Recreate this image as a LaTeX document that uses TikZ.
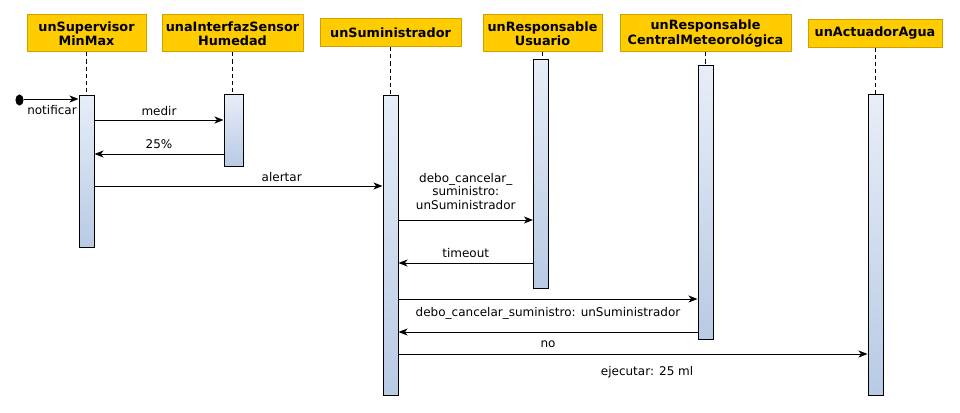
\documentclass[tikz,border=0pt]{standalone}
\usepackage{fontspec}
\setmainfont{DejaVu Sans}
\usetikzlibrary{arrows.meta,shapes.geometric}
\definecolor{cabecera}{HTML}{FFCC00}
\definecolor{bordecab}{HTML}{CFA000}
\definecolor{actarriba}{HTML}{E8EEF8}
\definecolor{actabajo}{HTML}{B8CAE4}

\begin{document}
\begin{tikzpicture}[x=1pt,y=-1pt,line width=1pt]
   \tikzset{obj/.style 2 args={draw=bordecab,fill=cabecera,inner sep=0,align=center,minimum width=#1,minimum height=#2,font=\fontsize{12.8}{14.5}\selectfont\bfseries},
   act/.style 2 args={draw=black,top color=actarriba,bottom color=actabajo,inner sep=0,minimum width=#1,minimum height=#2},
   msg/.style={-{Stealth[length=9pt,width=7pt,inset=2.5pt]}},
   vida/.style={line width=0.8pt,dash pattern=on 4pt off 3pt},
   lbl/.style={font=\fontsize{12}{13.5}\selectfont,align=center,inner sep=2pt}};

\useasboundingbox (0,0) rectangle (960,412);

% objetos
\node[obj={119}{37}] (sup) at (86.5,33.5) {unSupervisor\\MinMax};
\node[obj={141}{37}] (sen) at (232.5,33.5) {unaInterfazSensor\\Humedad};
\node[obj={141}{28}] (sum) at (390.5,33) {unSuministrador};
\node[obj={119}{37}] (usu) at (542.5,33.5) {unResponsable\\Usuario};
\node[obj={171}{37}] (met) at (705.5,33.5) {unResponsable\\CentralMeteorológica};
\node[obj={134}{28}] (agu) at (875,33.5) {unActuadorAgua};

% activaciones
\node[act={15}{152}] (a1) at (86.5,171) {};
\node[act={19}{72}] (a2) at (233.5,130) {};
\node[act={15}{300}] (a3) at (390.5,245) {};
\node[act={15}{228}] (a4) at (541,174) {};
\node[act={15}{274}] (a5) at (705.5,202) {};
\node[act={15}{301}] (a6) at (875.5,244.5) {};

\foreach \o/\a in {sup/a1,sen/a2,sum/a3,usu/a4,met/a5,agu/a6}
   \draw[vida] (\o.south) -- (\o.south |- \a.north);

% mensajes
\node[draw,fill,ellipse,minimum width=7,minimum height=10,inner sep=0] (ini) at (19.5,100) {};
\draw[msg] (ini.east |- 0,99) -- (a1.west |- 0,99);
\node[lbl] (l0) at (52,110) {notificar};

\draw[msg] (a1.east |- 0,120) -- node[lbl,above=2pt] (l1) {medir} (a2.west |- 0,120);
\draw[msg] (a2.west |- 0,154) -- node[lbl,above=3pt] (l2) {25\%} (a1.east |- 0,154);
\draw[msg] (a1.east |- 0,186) -- node[lbl,above=2pt,pos=.65] (l3) {alertar} (a3.west |- 0,186);
\draw[msg] (a3.east |- 0,220) -- node[lbl,above=8pt] (l4) {debo\_cancelar\_\\suministro:\\unSuministrador} (a4.west |- 0,220);
\draw[msg] (a4.west |- 0,263) -- node[lbl,above=3pt] (l5) {timeout} (a3.east |- 0,263);
\draw[msg] (a3.east |- 0,299) -- node[lbl,below=6pt] (l6) {debo\_cancelar\_suministro: unSuministrador} (a5.west |- 0,299);
\draw[msg] (a5.west |- 0,332) -- node[lbl,below=6pt] (l7) {no} (a3.east |- 0,332);
\draw[msg] (a3.east |- 0,354) -- node[lbl,below=10pt,pos=.53] (l8) {ejecutar: 25 ml} (a6.west |- 0,354);

\end{tikzpicture}
\end{document}
